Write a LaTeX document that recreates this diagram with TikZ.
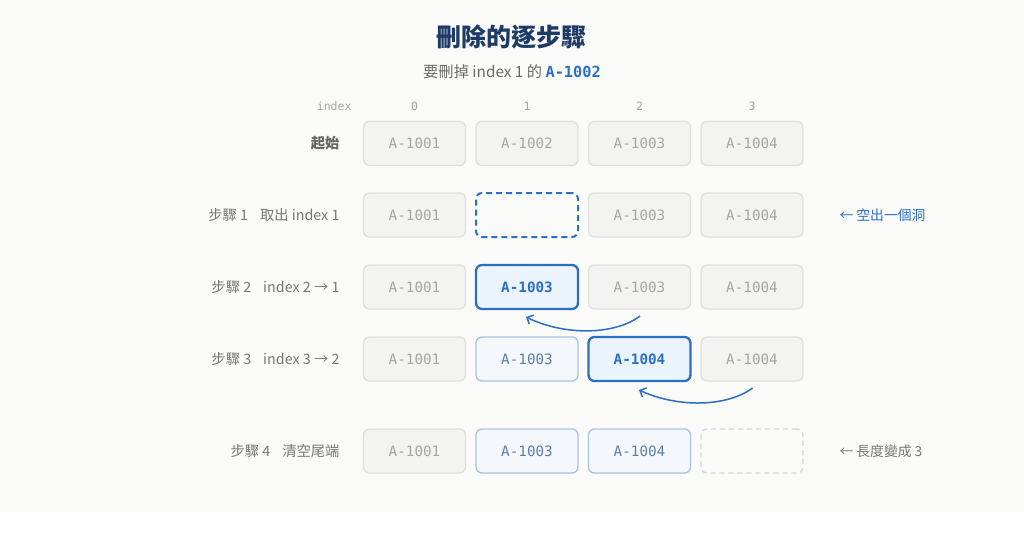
\documentclass[tikz,border=0pt]{standalone}
\usepackage{fontspec}
\setmainfont{Noto Sans CJK TC}
\newfontfamily\mono{DejaVu Sans Mono}
\usetikzlibrary{arrows.meta}
\definecolor{bg}{HTML}{FAFAF8}
\definecolor{navy}{HTML}{1E3A66}
\definecolor{lbl}{HTML}{777777}
\definecolor{gfill}{HTML}{F3F3F2}
\definecolor{gline}{HTML}{E0E0DD}
\definecolor{gtext}{HTML}{A6A6A6}
\definecolor{accent}{HTML}{2B6FC4}
\definecolor{hfill}{HTML}{EBF3FC}
\definecolor{lfill}{HTML}{F4F8FD}
\definecolor{lline}{HTML}{A9C2E3}
\definecolor{ltext}{HTML}{5F7EA6}
\definecolor{eline}{HTML}{D6D6D4}
\tikzset{
 cell/.style={minimum width=102pt, minimum height=44pt, rounded corners=6pt, inner sep=0pt, font=\mono\fontsize{14.3}{14.3}\selectfont},
 gcell/.style={cell, fill=gfill, draw=gline, line width=1.3pt, text=gtext},
 hcell/.style={cell, fill=hfill, draw=accent, line width=2.3pt, text=accent, font=\mono\bfseries\fontsize{14.3}{14.3}\selectfont},
 lcell/.style={cell, fill=lfill, draw=lline, line width=1.3pt, text=ltext},
 hole/.style={cell, draw=accent, line width=2pt, dash pattern=on 6pt off 4pt},
 emptycell/.style={cell, draw=eline, line width=1.3pt, dash pattern=on 5pt off 4pt},
 rowlbl/.style={anchor=east, text=lbl, font=\fontsize{14.3}{14.3}\selectfont},
 idx/.style={text=gtext, font=\mono\fontsize{11.5}{11.5}\selectfont},
 note/.style={anchor=west, font=\fontsize{13.8}{13.8}\selectfont},
 move/.style={draw=accent, line width=1.5pt, -{Straight Barb[length=5pt,width=10pt]}},
}
\begin{document}
\begin{tikzpicture}[x=1pt,y=-1pt]
\useasboundingbox (0,0) rectangle (1024,543);
\fill[bg] (0,0) rectangle (1024,512);
% title
\node[text=navy, font=\bfseries\fontsize{25}{25}\selectfont] (title) at (511,37) {刪除的逐步驟};
\node[text=lbl!90!black, font=\fontsize{15.3}{15.3}\selectfont] (sub) at (512,72) {要刪掉 index 1 的 {\mono\bfseries\color{accent}A-1002}};
% header
\node[idx, anchor=east] (hidx) at (355,106) {index};
\node[idx] (h0) at (414.5,106) {0};
\node[idx] (h1) at (527,106) {1};
\node[idx] (h2) at (639.5,106) {2};
\node[idx] (h3) at (752,106) {3};
% row 0
\node[rowlbl, font=\bfseries\fontsize{14.3}{14.3}\selectfont, text=lbl!85!black] (l0) at (343,143.5) {起始};
\node[gcell] (r0c0) at (414.5,143.5) {A-1001};
\node[gcell] (r0c1) at (527,143.5) {A-1002};
\node[gcell] (r0c2) at (639.5,143.5) {A-1003};
\node[gcell] (r0c3) at (752,143.5) {A-1004};
% row 1
\node[rowlbl] (l1) at (343,215) {步驟 1\hspace{12pt}取出 index 1};
\node[gcell] (r1c0) at (414.5,215) {A-1001};
\node[hole] (r1c1) at (527,215) {};
\node[gcell] (r1c2) at (639.5,215) {A-1003};
\node[gcell] (r1c3) at (752,215) {A-1004};
\node[note, text=accent] (n1) at (836,215) {← 空出一個洞};
% row 2
\node[rowlbl] (l2) at (343,287) {步驟 2\hspace{12pt}index 2 → 1};
\node[gcell] (r2c0) at (414.5,287) {A-1001};
\node[hcell] (r2c1) at (527,287) {A-1003};
\node[gcell] (r2c2) at (639.5,287) {A-1003};
\node[gcell] (r2c3) at (752,287) {A-1004};
% row 3
\node[rowlbl] (l3) at (343,359) {步驟 3\hspace{12pt}index 3 → 2};
\node[gcell] (r3c0) at (414.5,359) {A-1001};
\node[lcell] (r3c1) at (527,359) {A-1003};
\node[hcell] (r3c2) at (639.5,359) {A-1004};
\node[gcell] (r3c3) at (752,359) {A-1004};
% row 4
\node[rowlbl] (l4) at (343,451) {步驟 4\hspace{12pt}清空尾端};
\node[gcell] (r4c0) at (414.5,451) {A-1001};
\node[lcell] (r4c1) at (527,451) {A-1003};
\node[lcell] (r4c2) at (639.5,451) {A-1004};
\node[emptycell] (r4c3) at (752,451) {};
\node[note, text=lbl] (n4) at (836,451) {← 長度變成 3};
% moves
\coordinate (s1) at (640,316);
\coordinate (e1) at (526,317);
\coordinate (s2) at (752.5,388);
\coordinate (e2) at (639,390);
\draw[move] (s1) .. controls (615,335) and (565,336) .. (e1);
\draw[move] (s2) .. controls (727,407) and (678,408) .. (e2);
\end{tikzpicture}
\end{document}
